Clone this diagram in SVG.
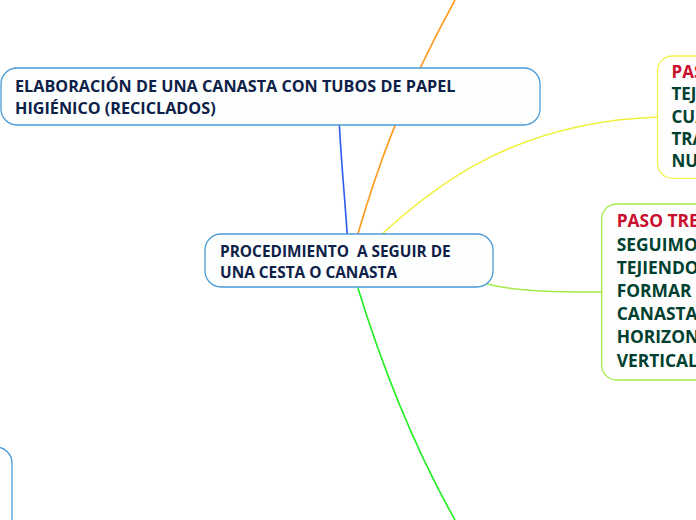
<svg xmlns="http://www.w3.org/2000/svg" width="696" height="520" viewBox="0 0 696 520">
<style>
.t{font-family:"Open Sans","Noto Sans",sans-serif;font-weight:bold;}
.m{font-size:16.2px;fill:#0d2148;}
.c{font-size:15.4px;fill:#0d2148;}
.p{font-size:17.4px;fill:#004030;}
.q{font-size:17px;fill:#004030;}
.r{fill:#c8102e;}
.box{fill:#fdfefe;stroke:#4a9bd6;stroke-width:1.3;}
.cn{fill:none;stroke-width:1.6;}
</style>
<rect width="696" height="520" fill="#ffffff"/>
<g id="connectors">
<path class="cn" stroke="#2a5cf0" d="M347.3,236 C345,200 341,160 339,118"/>
<path class="cn" stroke="#ff9a1e" d="M357.3,236 C375,175 400,100 455,0"/>
<path class="cn" stroke="#f0f03a" d="M380,236 C440,180 520,122 658,117"/>
<path class="cn" stroke="#a2ec46" d="M487,284 C520,292 560,292 602,292"/>
<path class="cn" stroke="#1fee1f" d="M357.3,286 C380,360 410,440 455,520"/>
</g>
<g id="node-main">
<rect class="box" x="1" y="68" width="539" height="57" rx="16"/>
<text class="t m" x="15" y="92">ELABORACIÓN DE UNA CANASTA CON TUBOS DE PAPEL</text>
<text class="t m" x="15" y="114">HIGIÉNICO (RECICLADOS)</text>
</g>
<g id="node-center">
<rect class="box" x="205" y="234" width="288" height="53" rx="16"/>
<text class="t c" x="220" y="257" xml:space="preserve">PROCEDIMIENTO  A SEGUIR DE</text>
<text class="t c" x="220" y="278">UNA CESTA O CANASTA</text>
</g>
<g id="node-paso-dos">
<rect x="657.5" y="56" width="120" height="122.3" rx="15" fill="#fefefe" stroke="#f2f24a" stroke-width="1.3"/>
<text class="t q" x="671.5" y="78.3"><tspan class="r">PASO DOS:</tspan></text>
<text class="t q" x="671.5" y="100.4">TEJEMOS</text>
<text class="t q" x="671.5" y="122.5">CUADRADO</text>
<text class="t q" x="671.5" y="144.6">TRAS</text>
<text class="t q" x="671.5" y="166.7">NUEVO</text>
</g>
<g id="node-paso-tres">
<rect x="601.7" y="204" width="160" height="176" rx="15" fill="#fefefe" stroke="#a2ec46" stroke-width="1.3"/>
<text class="t p" x="616.7" y="227.3"><tspan class="r">PASO TRES:</tspan></text>
<text class="t p" x="616.7" y="250.5">SEGUIMOS</text>
<text class="t p" x="616.7" y="273.7">TEJIENDO</text>
<text class="t p" x="616.7" y="296.9">FORMAR LA</text>
<text class="t p" x="616.7" y="320.1">CANASTA</text>
<text class="t p" x="616.7" y="343.3">HORIZONTAL</text>
<text class="t p" x="616.7" y="366.5">VERTICAL</text>
</g>
<g id="node-bottom-left">
<rect class="box" x="-200" y="447" width="212" height="120" rx="16"/>
</g>
</svg>
